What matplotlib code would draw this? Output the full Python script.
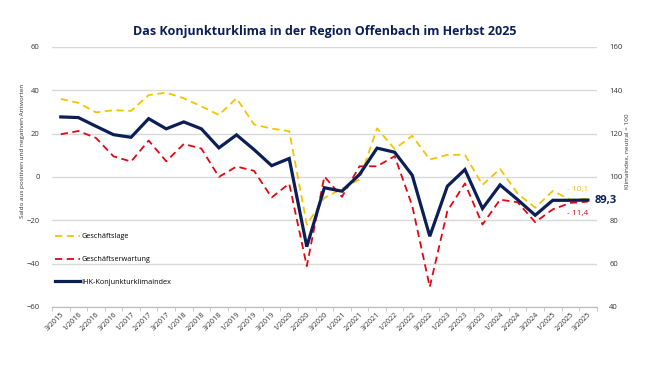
import matplotlib
matplotlib.use("Agg")
import matplotlib.pyplot as plt
import numpy as np

# Quartale
quartale = ["3/2015", "1/2016", "2/2016", "3/2016", "1/2017", "2/2017", "3/2017",
            "1/2018", "2/2018", "3/2018", "1/2019", "2/2019", "3/2019", "1/2020",
            "2/2020", "3/2020", "1/2021", "2/2021", "3/2021", "1/2022", "2/2022",
            "3/2022", "1/2023", "2/2023", "3/2023", "1/2024", "2/2024", "3/2024",
            "1/2025", "2/2025", "3/2025"]

# Saldo (linke Achse)
geschaeftslage = [36.0, 34.2, 29.8, 30.8, 30.5, 37.8, 38.9, 36.3, 32.6, 28.6, 36.3,
                  24.2, 22.3, 21.1, -22.0, -9.7, -5.4, -1.2, 22.4, 12.9, 19.0,
                  8.0, 10.2, 10.2, -3.7, 3.7, -7.7, -14.2, -6.5, -10.5, -10.1]
geschaeftserwartung = [19.7, 21.2, 18.0, 9.5, 7.1, 16.8, 7.2, 15.2, 13.1, 0.0, 4.8,
                       2.8, -9.5, -3.1, -41.2, 0.2, -9.2, 4.9, 4.9, 9.6, -13.3,
                       -50.8, -15.8, -3.0, -22.0, -10.5, -11.7, -20.9, -15.0, -12.0, -11.4]
# Klimaindex (rechte Achse)
klimaindex = [127.7, 127.4, 123.4, 119.5, 118.3, 126.9, 122.2, 125.4, 122.2, 113.4,
              119.4, 112.6, 105.2, 108.5, 67.8, 95.0, 93.4, 101.1, 113.3, 111.4,
              100.8, 72.6, 95.7, 103.4, 85.4, 96.3, 89.5, 82.3, 89.2, 89.2, 89.3]

gelb = "#f5c400"
rot = "#e30613"
navy = "#0b1f56"

plt.rcParams['font.family'] = ['Open Sans', 'DejaVu Sans']

fig = plt.figure(figsize=(6.5, 3.85), dpi=100)
ax = fig.add_axes([0.08, 0.203, 0.838, 0.675])
ax2 = ax.twinx()

x = np.arange(len(quartale))

ax.plot(x, geschaeftslage, color=gelb, lw=1.3, ls=(0, (4, 2.5)), label="Geschäftslage")
ax.plot(x, geschaeftserwartung, color=rot, lw=1.3, ls=(0, (4, 2.5)), label="Geschäftserwartung")
ax2.plot(x, klimaindex, color=navy, lw=2.3, solid_joinstyle="miter")
ax.plot([], [], color=navy, lw=2.3, label="IHK-Konjunkturklimaindex")

ax.set_ylim(-60, 60)
ax.set_yticks(range(-60, 61, 20))
ax2.set_ylim(40, 160)
ax2.set_yticks(range(40, 161, 20))
ax.set_xlim(-0.5, len(quartale) - 0.5)

ax.set_xticks(x)
ax.set_xticklabels(quartale, rotation=45, ha="right", va="top",
                   rotation_mode="anchor", fontsize=5.2, color="#333333")
ax.set_xticks(np.arange(-0.5, len(quartale), 1), minor=True)
ax.tick_params(axis="x", which="major", length=0, pad=3)
ax.tick_params(axis="x", which="minor", length=3, color="#bfbfbf")

ax.tick_params(axis="y", length=0, pad=9, labelsize=5.5, labelcolor="#333333")
ax2.tick_params(axis="y", length=0, pad=9, labelsize=5.5, labelcolor="#333333")

ax.grid(axis="y", color="#d9d9d9", lw=1)
ax.set_axisbelow(True)
for a in (ax, ax2):
    for s in ("top", "left", "right"):
        a.spines[s].set_visible(False)
    a.spines["bottom"].set_color("#bfbfbf")

ax.set_ylabel("Saldo aus positiven und negativen Antworten", fontsize=4.6, color="#333333")
ax.yaxis.set_label_coords(-0.05, 0.6)
ax2.set_ylabel("Klimaindex, neutral = 100", fontsize=4.6, color="#333333")
ax2.yaxis.set_label_coords(1.052, 0.6)

ax.legend(loc="upper left", bbox_to_anchor=(0.0, 0.295), frameon=False, fontsize=5.2,
          handlelength=3.5, handletextpad=0.2, labelspacing=2.2, borderaxespad=0)

ax.text(x[-1] - 0.6, geschaeftslage[-1] + 4.5, "- 10,1", color=gelb, fontsize=6, ha="center", va="center")
ax.text(x[-1] - 0.6, geschaeftserwartung[-1] - 5.5, "- 11,4", color=rot, fontsize=6, ha="center", va="center")
ax2.text(x[-1] + 0.4, klimaindex[-1], "89,3", color=navy, fontsize=8, fontweight="bold", ha="left", va="center")

fig.suptitle("Das Konjunkturklima in der Region Offenbach im Herbst 2025", x=0.5, y=0.935,
             fontsize=9, color=navy, fontweight="bold")

fig.savefig("out.png", dpi=100)
